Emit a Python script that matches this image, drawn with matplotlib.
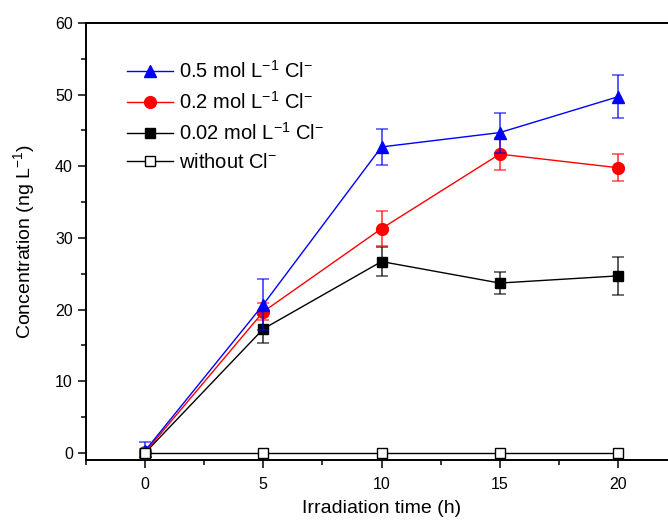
import matplotlib
matplotlib.use("Agg")
import matplotlib.pyplot as plt
from matplotlib.ticker import MultipleLocator

plt.rcParams["font.family"] = ["Liberation Sans", "DejaVu Sans"]
plt.rcParams["mathtext.fontset"] = "custom"
plt.rcParams["mathtext.rm"] = "Liberation Sans"
plt.rcParams["mathtext.it"] = "Liberation Sans"
plt.rcParams["mathtext.default"] = "regular"

time_h = [0, 5, 10, 15, 20]

conc_05 = [0.3, 20.7, 42.7, 44.7, 49.7]
err_05 = [1.2, 3.5, 2.5, 2.8, 3.0]

conc_02 = [0.1, 19.7, 31.3, 41.7, 39.8]
err_02 = [0.5, 1.2, 2.4, 2.2, 1.9]

conc_002 = [0.0, 17.3, 26.7, 23.7, 24.7]
err_002 = [0.3, 1.9, 2.0, 1.5, 2.6]

conc_none = [0.0, 0.0, 0.0, 0.0, 0.0]

labels = [
    "0.5 mol L$^{-1}$ Cl$^{-}$",
    "0.2 mol L$^{-1}$ Cl$^{-}$",
    "0.02 mol L$^{-1}$ Cl$^{-}$",
    "without Cl$^{-}$",
]

fig = plt.figure(figsize=(6.68, 5.2), dpi=100)
ax = fig.add_axes([86 / 668, 1 - 460 / 520, (677 - 86) / 668, (460 - 23) / 520])

series = [
    (conc_002, err_002, "black", "s", 7.5, "black", 3, labels[2]),
    (conc_02, err_02, "red", "o", 8.5, "red", 4, labels[1]),
    (conc_05, err_05, "blue", "^", 9, "blue", 5, labels[0]),
]

handles = {}
for y, e, color, marker, ms, mfc, z, lab in series:
    ax.errorbar(time_h, y, yerr=e, fmt="none", ecolor=color, elinewidth=1.4,
                capsize=4, capthick=1.2, alpha=0.65, zorder=z)
    (h,) = ax.plot(time_h, y, color=color, lw=1, marker=marker, ms=ms,
                   mfc=mfc, mec=color, zorder=z + 0.5, label=lab)
    handles[lab] = h

(h,) = ax.plot(time_h, conc_none, color="black", lw=1, marker="s", ms=7,
               mfc="white", mec="black", mew=1, zorder=7, label=labels[3])
handles[labels[3]] = h

ax.set_xlim(-2.5, 22.5)
ax.set_ylim(-1, 60)
ax.xaxis.set_major_locator(MultipleLocator(5))
ax.xaxis.set_minor_locator(MultipleLocator(2.5))
ax.yaxis.set_major_locator(MultipleLocator(10))
ax.yaxis.set_minor_locator(MultipleLocator(5))

ax.tick_params(which="major", direction="out", length=6, width=1.1,
               labelsize=11.5, top=False, right=False)
ax.tick_params(which="minor", direction="out", length=3.5, width=1.1,
               top=False, right=False)
ax.tick_params(axis="x", pad=6)
for s in ax.spines.values():
    s.set_linewidth(1.4)
ax.spines["right"].set_visible(False)

ax.set_xlabel("Irradiation time (h)", fontsize=14, labelpad=6)
ax.set_ylabel("Concentration (ng L$^{-1}$)", fontsize=14, labelpad=13)

ax.legend([handles[l] for l in labels], labels, loc="upper left",
          bbox_to_anchor=(0.055, 0.934), frameon=False, fontsize=14.5,
          handlelength=2.3, handletextpad=0.3, labelspacing=0.45,
          borderaxespad=0)

fig.savefig("out.png", dpi=100)
